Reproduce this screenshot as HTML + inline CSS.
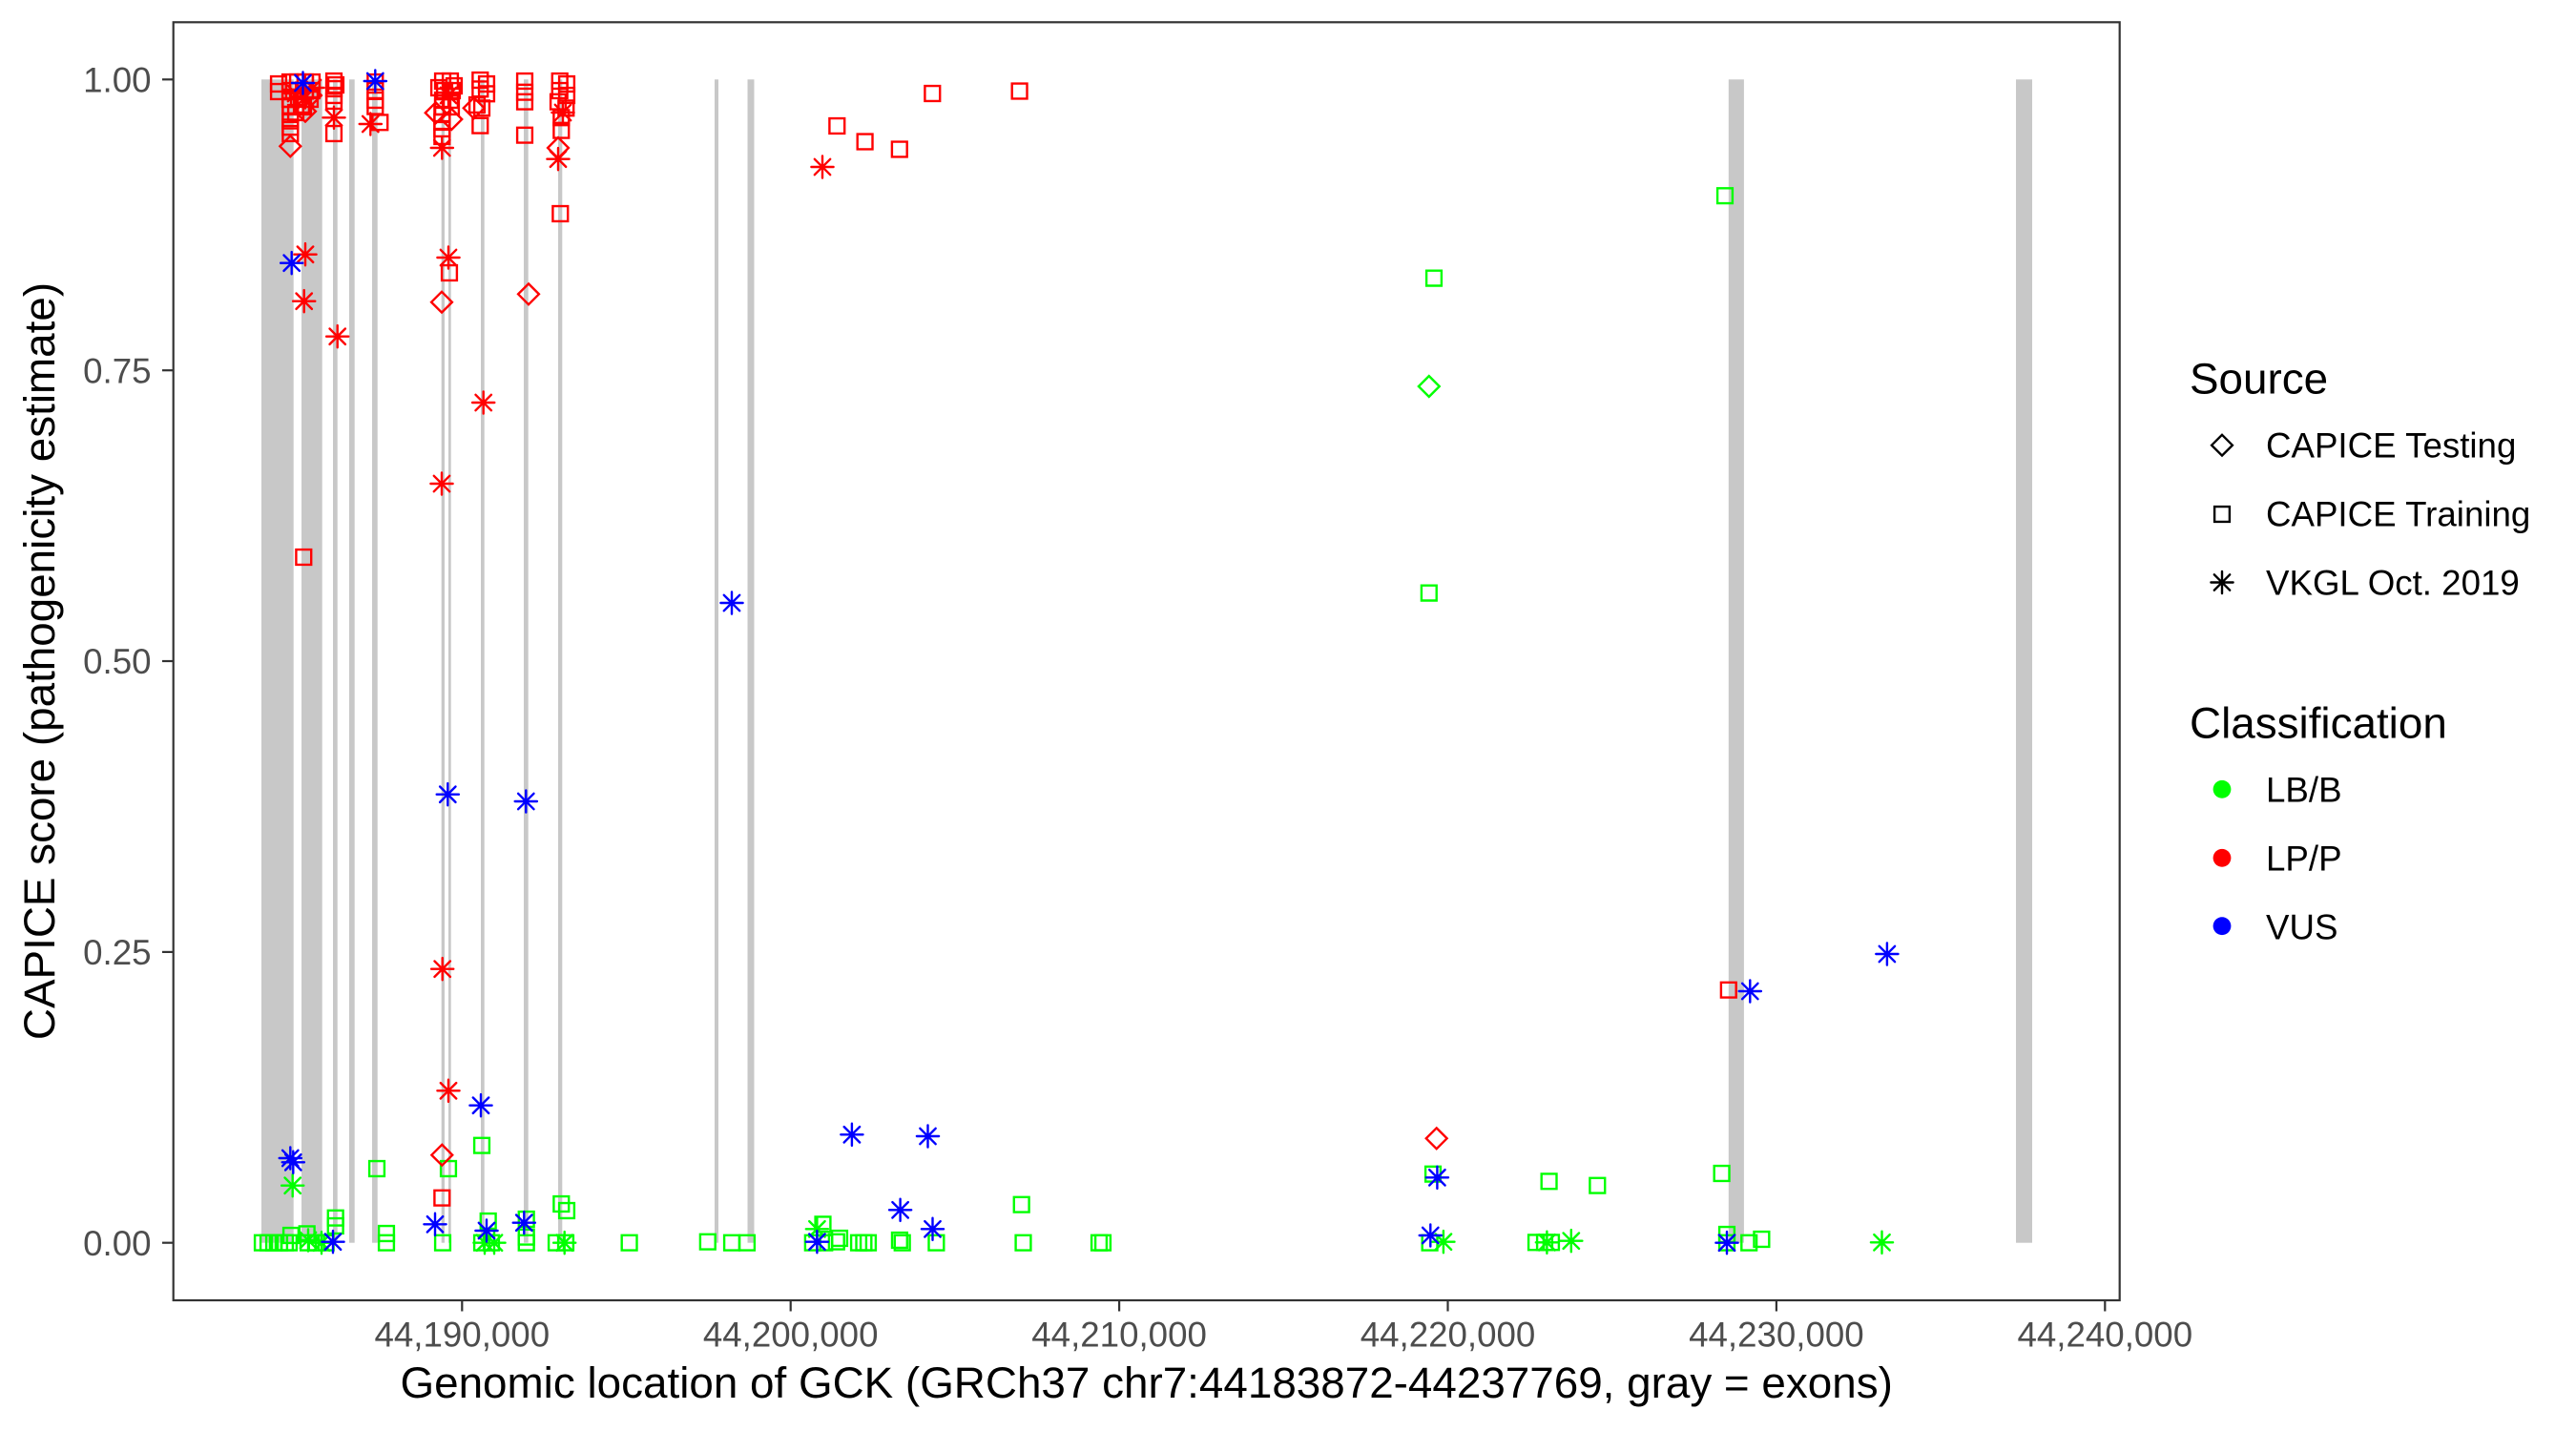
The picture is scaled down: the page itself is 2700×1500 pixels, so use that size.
<!DOCTYPE html>
<html>
<head>
<meta charset="utf-8">
<style>
html,body{margin:0;padding:0;background:#fff;}
svg{display:block;}
text{font-family:"Liberation Sans", Arial, sans-serif;}
</style>
</head>
<body>
<svg width="2700" height="1500" viewBox="0 0 2700 1500" xmlns="http://www.w3.org/2000/svg">
<defs>
<path id="s" d="M-7.9,-7.9H7.9V7.9H-7.9Z" fill="none"/>
<path id="d" d="M0,-10.9L10.9,0L0,10.9L-10.9,0Z" fill="none"/>
<path id="a" d="M0,-11.6V11.6M-11.6,0H11.6M-8.2,-8.2L8.2,8.2M-8.2,8.2L8.2,-8.2" fill="none"/>
</defs>
<rect x="0" y="0" width="2700" height="1500" fill="#fff"/>

<!-- exons -->
<g fill="#c8c8c8">
<rect x="274" y="83.3" width="33.7" height="1219.4"/>
<rect x="316" y="83.3" width="21.7" height="1219.4"/>
<rect x="349" y="83.3" width="4.7" height="1219.4"/>
<rect x="366" y="83.3" width="5.7" height="1219.4"/>
<rect x="390" y="83.3" width="5.7" height="1219.4"/>
<rect x="462.7" y="83.3" width="3.3" height="1219.4"/>
<rect x="470" y="83.3" width="2.7" height="1219.4"/>
<rect x="504" y="83.3" width="3.7" height="1219.4"/>
<rect x="549" y="83.3" width="4.7" height="1219.4"/>
<rect x="585" y="83.3" width="4.3" height="1219.4"/>
<rect x="749" y="83.3" width="4" height="1219.4"/>
<rect x="783.5" y="83.3" width="7" height="1219.4"/>
<rect x="1811.8" y="83.3" width="16.1" height="1219.4"/>
<rect x="2113" y="83.3" width="17" height="1219.4"/>
</g>

<!-- green points -->
<g stroke="#00ff00" stroke-width="2.4" stroke-linecap="round" fill="none">
<use href="#s" x="275" y="1302.7"/><use href="#s" x="281" y="1302.7"/><use href="#s" x="287" y="1302.7"/>
<use href="#s" x="293" y="1302.7"/><use href="#s" x="299" y="1302.7"/><use href="#s" x="303" y="1302.7"/>
<use href="#s" x="305" y="1295"/><use href="#s" x="321.7" y="1293.3"/><use href="#s" x="323" y="1302.7"/>
<use href="#s" x="331.7" y="1302.7"/><use href="#s" x="341.7" y="1302.7"/>
<use href="#s" x="351.7" y="1276.7"/><use href="#s" x="351.7" y="1285"/>
<use href="#s" x="405" y="1293"/><use href="#s" x="405" y="1302.7"/><use href="#s" x="395" y="1225"/>
<use href="#s" x="464" y="1302.7"/><use href="#s" x="470" y="1225"/><use href="#s" x="505" y="1200.7"/>
<use href="#s" x="511.7" y="1280"/><use href="#s" x="505" y="1302.7"/><use href="#s" x="515" y="1302.7"/>
<use href="#s" x="551.7" y="1278"/><use href="#s" x="551.7" y="1296.7"/><use href="#s" x="551.7" y="1302.7"/>
<use href="#s" x="588.3" y="1262"/><use href="#s" x="594" y="1269"/><use href="#s" x="583" y="1302.7"/><use href="#s" x="593" y="1302.7"/>
<use href="#s" x="659.6" y="1302.7"/><use href="#s" x="741.8" y="1301.7"/><use href="#s" x="767" y="1302.7"/><use href="#s" x="783" y="1302.7"/>
<use href="#s" x="862.5" y="1283.3"/><use href="#s" x="851.8" y="1302.7"/><use href="#s" x="864.3" y="1302.7"/>
<use href="#s" x="876.8" y="1301.7"/><use href="#s" x="880" y="1298"/>
<use href="#s" x="900" y="1302.7"/><use href="#s" x="905.4" y="1302.7"/><use href="#s" x="910" y="1302.7"/>
<use href="#s" x="942.9" y="1300"/><use href="#s" x="945.7" y="1302.7"/><use href="#s" x="981.4" y="1302.7"/>
<use href="#s" x="1070.7" y="1262.7"/><use href="#s" x="1072.5" y="1302.7"/>
<use href="#s" x="1152" y="1302.7"/><use href="#s" x="1156" y="1302.7"/>
<use href="#s" x="1503" y="291.6"/><use href="#s" x="1497.8" y="621.6"/><use href="#s" x="1808" y="205.2"/>
<use href="#s" x="1502" y="1230.7"/><use href="#s" x="1498.6" y="1302.7"/>
<use href="#s" x="1610" y="1302.3"/><use href="#s" x="1619" y="1302.3"/><use href="#s" x="1626" y="1302.3"/>
<use href="#s" x="1623.6" y="1238.3"/><use href="#s" x="1674.3" y="1242.7"/>
<use href="#s" x="1804.6" y="1230"/><use href="#s" x="1810" y="1294"/><use href="#s" x="1810" y="1302.7"/>
<use href="#s" x="1833.2" y="1302.7"/><use href="#s" x="1846.4" y="1299"/>
<use href="#d" x="1497.8" y="405"/>
<use href="#a" x="306.7" y="1242.7"/><use href="#a" x="323" y="1300"/><use href="#a" x="337" y="1302.7"/>
<use href="#a" x="508" y="1302.7"/><use href="#a" x="518" y="1302.7"/><use href="#a" x="591.7" y="1302.7"/>
<use href="#a" x="856.4" y="1288.3"/><use href="#a" x="1512.9" y="1301.7"/><use href="#a" x="1621.4" y="1302.3"/>
<use href="#a" x="1646.8" y="1300.7"/><use href="#a" x="1972.5" y="1302.3"/>
</g>

<!-- red points -->
<g stroke="#ff0000" stroke-width="2.4" stroke-linecap="round" fill="none">
<!-- cluster A -->
<use href="#s" x="292" y="88"/><use href="#s" x="292" y="96"/>
<use href="#s" x="304" y="86"/><use href="#s" x="312" y="86"/><use href="#s" x="320" y="86"/><use href="#s" x="327" y="86"/>
<use href="#s" x="304" y="95"/><use href="#s" x="312" y="95"/><use href="#s" x="320" y="95"/><use href="#s" x="327" y="95"/>
<use href="#s" x="304" y="104"/><use href="#s" x="313" y="104"/><use href="#s" x="325" y="104"/><use href="#s" x="318" y="112"/>
<use href="#s" x="304.3" y="112"/><use href="#s" x="316" y="110"/><use href="#s" x="310" y="118"/>
<use href="#s" x="304.3" y="120"/><use href="#s" x="304.3" y="126.7"/><use href="#s" x="304.3" y="133.3"/><use href="#s" x="304.3" y="140"/>
<use href="#d" x="304.3" y="153.3"/><use href="#d" x="320" y="116.7"/><use href="#d" x="326" y="100"/>
<use href="#a" x="328" y="92"/><use href="#a" x="320" y="102"/><use href="#a" x="310" y="98"/>
<use href="#s" x="318.3" y="584"/>
<use href="#a" x="320" y="266.7"/><use href="#a" x="318.7" y="315.7"/><use href="#a" x="353.7" y="352.7"/>
<!-- cluster B -->
<use href="#s" x="350" y="85"/><use href="#s" x="350" y="93"/><use href="#s" x="350" y="100"/><use href="#s" x="350" y="106"/>
<use href="#s" x="352" y="89"/>
<use href="#s" x="350" y="140"/><use href="#a" x="350" y="123.3"/>
<!-- cluster C -->
<use href="#s" x="393.3" y="86"/><use href="#s" x="393.3" y="95"/><use href="#s" x="393.3" y="105"/><use href="#s" x="393.3" y="111.7"/>
<use href="#s" x="398.3" y="128.3"/><use href="#a" x="388.3" y="130"/>
<!-- cluster D -->
<use href="#s" x="464" y="85"/><use href="#s" x="472" y="85"/><use href="#s" x="466" y="95"/><use href="#s" x="474" y="95"/>
<use href="#s" x="464" y="105"/><use href="#s" x="472" y="105"/><use href="#s" x="464" y="112"/><use href="#s" x="473" y="112"/>
<use href="#s" x="476" y="90"/><use href="#s" x="460" y="92"/>
<use href="#s" x="463.3" y="120"/><use href="#s" x="463.3" y="128"/><use href="#s" x="463.3" y="135"/><use href="#s" x="463.3" y="143"/>
<use href="#s" x="471" y="286"/><use href="#s" x="463.3" y="1255.7"/>
<use href="#d" x="456.7" y="118.3"/><use href="#d" x="473.3" y="125"/><use href="#d" x="463" y="316.7"/><use href="#d" x="463.3" y="1210.7"/>
<use href="#a" x="463.3" y="155"/><use href="#a" x="470" y="100"/><use href="#a" x="470" y="270"/><use href="#a" x="463" y="507"/>
<use href="#a" x="463.7" y="1015.7"/><use href="#a" x="470" y="1143.3"/><use href="#a" x="506.7" y="422"/>
<!-- cluster E -->
<use href="#s" x="503.3" y="84"/><use href="#s" x="510" y="88"/><use href="#s" x="503.3" y="93.3"/><use href="#s" x="510" y="98.3"/>
<use href="#s" x="500" y="110"/><use href="#s" x="505" y="113.3"/><use href="#s" x="503.3" y="131.7"/>
<use href="#d" x="496.7" y="113.3"/>
<!-- cluster F -->
<use href="#s" x="550" y="85"/><use href="#s" x="550" y="96.7"/><use href="#s" x="550" y="106.7"/><use href="#s" x="550" y="141.7"/>
<use href="#d" x="554" y="308.3"/>
<!-- cluster G -->
<use href="#s" x="586.7" y="85"/><use href="#s" x="594" y="88"/><use href="#s" x="586.7" y="95"/><use href="#s" x="594" y="100"/>
<use href="#s" x="585" y="106.7"/><use href="#s" x="593.3" y="113.3"/><use href="#s" x="588.3" y="123.3"/><use href="#s" x="588.3" y="136.7"/>
<use href="#s" x="587.3" y="224"/>
<use href="#d" x="585" y="155"/><use href="#a" x="585" y="166.7"/><use href="#a" x="590" y="118"/>
<!-- mid -->
<use href="#a" x="862" y="175"/>
<use href="#s" x="877.3" y="132"/><use href="#s" x="906.6" y="148.5"/><use href="#s" x="942.8" y="156.5"/>
<use href="#s" x="977.3" y="98"/><use href="#s" x="1068.6" y="95.5"/>
<!-- right -->
<use href="#d" x="1505.7" y="1193.3"/><use href="#s" x="1811.8" y="1037.7"/>
</g>

<!-- blue points -->
<g stroke="#0000ff" stroke-width="2.4" stroke-linecap="round" fill="none">
<use href="#a" x="317.5" y="87"/><use href="#a" x="393.3" y="85"/><use href="#a" x="305.7" y="275.7"/>
<use href="#a" x="469.3" y="832.7"/><use href="#a" x="551.3" y="840"/>
<use href="#a" x="304.3" y="1214"/><use href="#a" x="307.3" y="1218.3"/>
<use href="#a" x="349" y="1301.7"/><use href="#a" x="456" y="1283.3"/><use href="#a" x="504" y="1158.7"/>
<use href="#a" x="510" y="1290"/><use href="#a" x="549.3" y="1281.7"/>
<use href="#a" x="767" y="632"/><use href="#a" x="856.4" y="1301.7"/>
<use href="#a" x="892.9" y="1189.3"/><use href="#a" x="972.5" y="1191"/>
<use href="#a" x="943.6" y="1268.3"/><use href="#a" x="977.5" y="1288.3"/>
<use href="#a" x="1506.4" y="1234.3"/><use href="#a" x="1499.3" y="1295"/>
<use href="#a" x="1834.3" y="1039"/><use href="#a" x="1810" y="1302.7"/><use href="#a" x="1977.9" y="1000"/>
</g>

<!-- panel border -->
<rect x="181.7" y="23.3" width="2040" height="1339.7" fill="none" stroke="#333333" stroke-width="2.2"/>

<!-- y ticks -->
<g stroke="#333333" stroke-width="2.2">
<line x1="170" y1="83.3" x2="181.7" y2="83.3"/>
<line x1="170" y1="388.2" x2="181.7" y2="388.2"/>
<line x1="170" y1="693" x2="181.7" y2="693"/>
<line x1="170" y1="997.9" x2="181.7" y2="997.9"/>
<line x1="170" y1="1302.7" x2="181.7" y2="1302.7"/>
</g>
<g font-size="36.7" fill="#4d4d4d" text-anchor="end">
<text x="158.5" y="96.4">1.00</text>
<text x="158.5" y="401.3">0.75</text>
<text x="158.5" y="706.1">0.50</text>
<text x="158.5" y="1011">0.25</text>
<text x="158.5" y="1315.8">0.00</text>
</g>

<!-- x ticks -->
<g stroke="#333333" stroke-width="2.2">
<line x1="484.3" y1="1363" x2="484.3" y2="1374.5"/>
<line x1="828.7" y1="1363" x2="828.7" y2="1374.5"/>
<line x1="1173.1" y1="1363" x2="1173.1" y2="1374.5"/>
<line x1="1517.5" y1="1363" x2="1517.5" y2="1374.5"/>
<line x1="1861.9" y1="1363" x2="1861.9" y2="1374.5"/>
<line x1="2206.3" y1="1363" x2="2206.3" y2="1374.5"/>
</g>
<g font-size="36.7" fill="#4d4d4d" text-anchor="middle">
<text x="484.3" y="1411.7">44,190,000</text>
<text x="828.7" y="1411.7">44,200,000</text>
<text x="1173.1" y="1411.7">44,210,000</text>
<text x="1517.5" y="1411.7">44,220,000</text>
<text x="1861.9" y="1411.7">44,230,000</text>
<text x="2206.3" y="1411.7">44,240,000</text>
</g>

<!-- axis titles -->
<text x="1201.7" y="1465" font-size="45.8" fill="#000" text-anchor="middle">Genomic location of GCK (GRCh37 chr7:44183872-44237769, gray = exons)</text>
<text transform="translate(57,693) rotate(-90)" font-size="45.8" fill="#000" text-anchor="middle">CAPICE score (pathogenicity estimate)</text>

<!-- legend: Source -->
<text x="2295" y="412.7" font-size="45.8" fill="#000">Source</text>
<g stroke="#000" stroke-width="2.4" stroke-linecap="round" fill="none">
<use href="#d" x="2329" y="466.7"/>
<use href="#s" x="2329" y="539"/>
<use href="#a" x="2329" y="610.5"/>
</g>
<g font-size="36.7" fill="#000">
<text x="2375" y="479.3">CAPICE Testing</text>
<text x="2375" y="551.7">CAPICE Training</text>
<text x="2375" y="623.3">VKGL Oct. 2019</text>
</g>

<!-- legend: Classification -->
<text x="2295" y="773.3" font-size="45.8" fill="#000">Classification</text>
<circle cx="2329" cy="827.3" r="9.4" fill="#00ff00"/>
<circle cx="2329" cy="899.3" r="9.4" fill="#ff0000"/>
<circle cx="2329" cy="970.7" r="9.4" fill="#0000ff"/>
<g font-size="36.7" fill="#000">
<text x="2375" y="840.7">LB/B</text>
<text x="2375" y="912.7">LP/P</text>
<text x="2375" y="984.3">VUS</text>
</g>
</svg>
</body>
</html>
